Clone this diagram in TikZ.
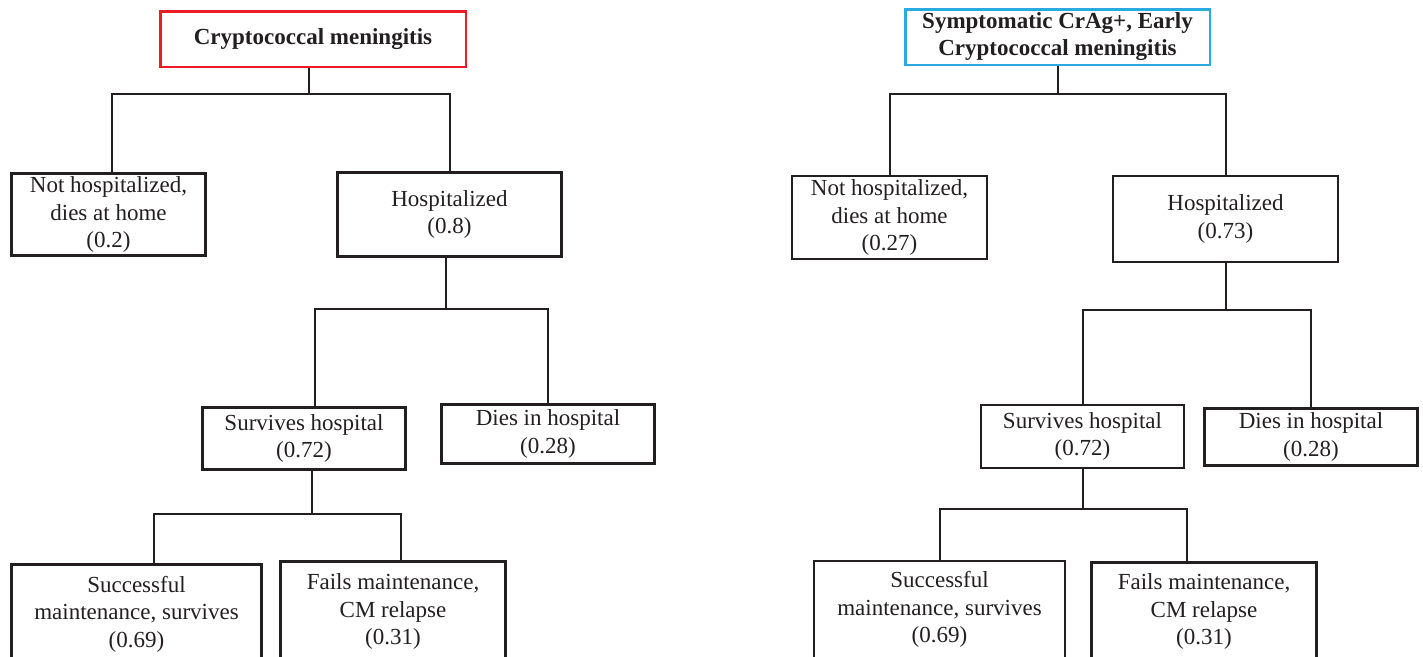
\documentclass[tikz,border=0pt]{standalone}
\usepackage{fontspec}
\setmainfont{Liberation Serif}
\definecolor{ink}{HTML}{231F20}
\definecolor{redb}{HTML}{ED1C24}
\definecolor{blueb}{HTML}{29ABE2}
\tikzset{
  box/.style={draw=ink, text=ink, align=center, inner sep=0pt, font=\fontsize{23}{27.5}\selectfont},
  thickbox/.style={box, line width=3pt},
  thinbox/.style={box, line width=2pt},
  rootbox/.style={box, line width=2.5pt, font=\fontsize{23}{27}\selectfont\bfseries},
  conn/.style={draw=ink, line width=2pt},
}
\begin{document}
\begin{tikzpicture}[x=1pt,y=1pt]
\useasboundingbox (0,0) rectangle (1423,-656);
\clip (0,0) rectangle (1423,-656);
\fill[white] (0,0) rectangle (1423,-656);

% ---------- left tree ----------
\node[rootbox, draw=redb, minimum width=305.5pt, minimum height=55.5pt] (root) at (313,-39) {Cryptococcal meningitis};
\node[thickbox, minimum width=194pt, minimum height=82pt] (nh) at (108.5,-214.5) {Not hospitalized,\\dies at home\\(0.2)};
\node[thickbox, minimum width=224pt, minimum height=84pt] (hosp) at (449.5,-214.5) {Hospitalized\\(0.8)};
\node[thickbox, minimum width=203pt, minimum height=62pt] (surv) at (304,-438.5) {Survives hospital\\(0.72)};
\node[thickbox, minimum width=213pt, minimum height=59pt] (dies) at (548,-434) {Dies in hospital\\(0.28)};
\node[thickbox, minimum width=250pt, minimum height=100pt] (succ) at (136.5,-614) {Successful\\maintenance, survives\\(0.69)};
\node[thickbox, minimum width=225pt, minimum height=100pt] (fail) at (393,-611.5) {Fails maintenance,\\CM relapse\\(0.31)};

\draw[conn] ([xshift=-4pt]root.south) -- ++(0,-26) coordinate (j1);
\draw[conn] ([xshift=3.5pt]nh.north) |- (j1) -| (hosp.north);
\draw[conn] ([xshift=-3.5pt]hosp.south) -- ++(0,-50.5) coordinate (j2);
\draw[conn] ([xshift=11pt]surv.north) |- (j2) -| (dies.north);
\draw[conn] ([xshift=8pt]surv.south) -- ++(0,-42.5) coordinate (j3);
\draw[conn] ([xshift=17.5pt]succ.north) |- (j3) -| ([xshift=8pt]fail.north);

% ---------- right tree ----------
\node[rootbox, draw=blueb, minimum width=304.5pt, minimum height=55.5pt] (root2) at (1057.5,-37) {Symptomatic CrAg+, Early\\Cryptococcal meningitis};
\node[thinbox, minimum width=195pt, minimum height=83pt] (nh2) at (889.5,-217.5) {Not hospitalized,\\dies at home\\(0.27)};
\node[thinbox, minimum width=225pt, minimum height=86pt] (hosp2) at (1225.5,-219) {Hospitalized\\(0.73)};
\node[thinbox, minimum width=203pt, minimum height=63pt] (surv2) at (1082.5,-436.5) {Survives hospital\\(0.72)};
\node[thickbox, minimum width=213pt, minimum height=57pt] (dies2) at (1311,-437) {Dies in hospital\\(0.28)};
\node[thinbox, minimum width=251pt, minimum height=98pt] (succ2) at (939.5,-609.5) {Successful\\maintenance, survives\\(0.69)};
\node[thickbox, minimum width=225pt, minimum height=98pt] (fail2) at (1204,-611.5) {Fails maintenance,\\CM relapse\\(0.31)};

\draw[conn] (root2.south) -- ++(0,-28.25) coordinate (k1);
\draw[conn] (nh2.north) |- (k1) -| (hosp2.north);
\draw[conn] (hosp2.south) -- ++(0,-47) coordinate (k2);
\draw[conn] (surv2.north) |- (k2) -| (dies2.north);
\draw[conn] (surv2.south) -- ++(0,-40) coordinate (k3);
\draw[conn] (succ2.north) |- (k3) -| ([xshift=-17pt]fail2.north);
\end{tikzpicture}
\end{document}
